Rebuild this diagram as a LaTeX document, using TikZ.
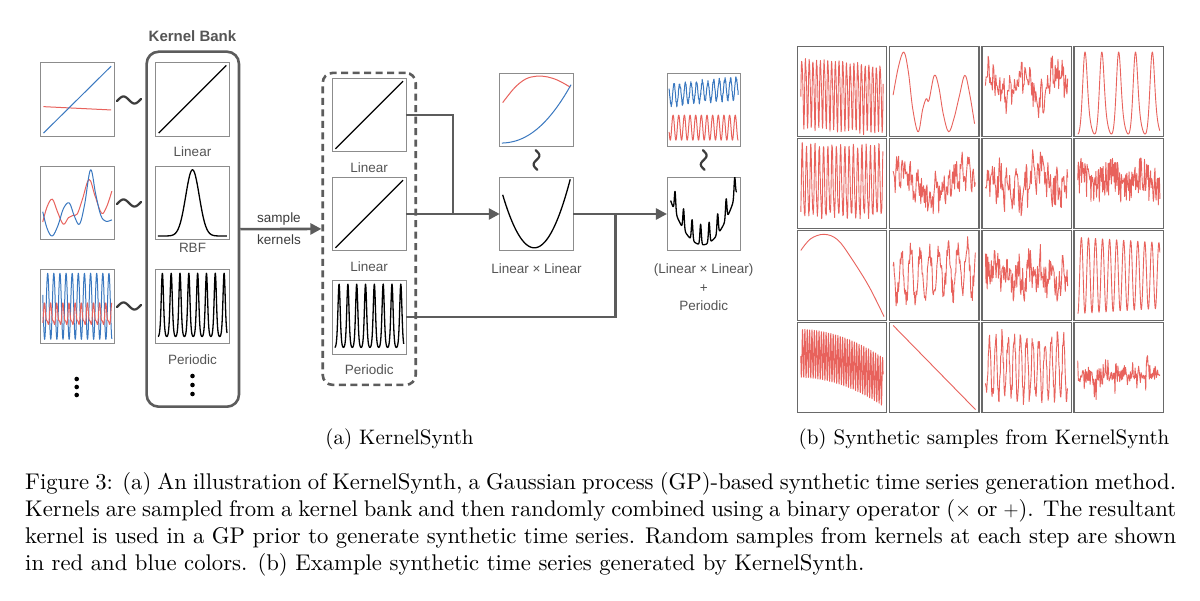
\documentclass[tikz,border=0pt]{standalone}
\usepackage{fontspec}
\setmainfont{lmroman10-regular}[Extension=.otf]
\newfontfamily\hv{Liberation Sans}
\usetikzlibrary{arrows.meta}
\definecolor{pred}{RGB}{232,98,92}
\definecolor{pblue}{RGB}{58,120,192}
\definecolor{fgray}{RGB}{140,140,140}
\definecolor{ggray}{RGB}{105,105,105}
\definecolor{cgray}{RGB}{92,92,92}
\definecolor{tgray}{RGB}{85,85,85}
\definecolor{dgray}{RGB}{60,60,60}
\newcommand\pbox[4]{%
  \node[pframe] (#1) at (#2,#3) {};
  \begin{scope}[shift={(#1.south west)}, x=73.5pt, y=73.5pt]
    \clip (0.005,0.005) rectangle (0.995,0.995);
    #4
  \end{scope}}
\newcommand\gbox[4]{%
  \node[gframe] (#1) at (#2,#3) {};
  \begin{scope}[shift={(#1.south west)}, x=89.5pt, y=89.5pt]
    \clip (0.008,0.008) rectangle (0.992,0.992);
    #4
  \end{scope}}
\newcommand\mytilde[4]{% x y angle halflength
  \draw[tilde, shift={(#1,#2)}, rotate=#3] plot[domain=-1.1:1.1, samples=40, smooth] ({#4*\x}, {0.32*#4*sin(180*\x)});}
\begin{document}
\begin{tikzpicture}[x=1pt,y=-1pt,
  pframe/.style={draw=fgray, line width=0.8pt, minimum width=73.5pt, minimum height=73.5pt, inner sep=0pt, outer sep=0pt},
  gframe/.style={draw=ggray, line width=1.4pt, minimum width=89.5pt, minimum height=89.5pt, inner sep=0pt, outer sep=0pt},
  kl/.style={black, line width=1.3pt, line join=round},
  pr/.style={pred, line width=1pt, line join=round},
  pb/.style={pblue, line width=1pt, line join=round},
  gr/.style={pred, line width=0.9pt, line join=round},
  lab/.style={font=\hv\fontsize{13.5}{18.5}\selectfont, text=tgray, inner sep=0pt, align=center},
  conn/.style={draw=cgray, line width=2.6pt},
  arr/.style={conn, -{Triangle[length=11pt,width=11pt]}},
  tilde/.style={draw=dgray, line width=2.2pt, line cap=round},
  dot/.style={circle, fill=black, inner sep=0pt, minimum size=4.6pt},
  bank/.style={draw=cgray, line width=2.6pt, rounded corners=12pt, minimum width=92.3pt, minimum height=355pt, inner sep=0pt},
  dbox/.style={draw=cgray, line width=2.6pt, rounded corners=10pt, dash pattern=on 7pt off 4.5pt, minimum width=93pt, minimum height=312pt, inner sep=0pt},
  subcap/.style={font=\fontsize{21}{25}\selectfont, inner sep=0pt},
  captext/.style={font=\fontsize{22.7}{27}\selectfont, inner sep=0pt}
]
\fill[white] (0,0) rectangle (1200,601);
\useasboundingbox (0,0) rectangle (1200,601);

% ---------- kernel bank ----------
\node[bank] (kb) at (192.8,229.2) {};
\node[font=\hv\bfseries\fontsize{15}{18}\selectfont, text=tgray, inner sep=0pt] (kbt) at (192.5,36) {Kernel Bank};

\pbox{kbl}{192.5}{99.3}{\draw[kl] (0.04,0.04) -- (0.96,0.96);}
\node[lab] (kbll) at (192.5,151.7) {Linear};
\pbox{kbr}{192.5}{202.9}{\draw[kl] plot[domain=0.03:0.97, samples=150] (\x,{0.05+0.9*exp(-((\x-0.5)/0.13)^2)});}
\node[lab] (kbrl) at (192.5,248) {RBF};
\pbox{kbp}{192.5}{306.3}{\draw[kl] plot[domain=0.03:0.97, samples=400] (\x,{0.05+0.9*exp(-2*(sin(180*(\x-0.09)/0.12))^2/0.64)});}
\node[lab] (kbpl) at (192.5,360) {Periodic};
\node[dot] (kd1) at (192.5,376) {};
\node[dot] (kd2) at (192.5,385) {};
\node[dot] (kd3) at (192.5,394) {};

% ---------- left samples ----------
\pbox{s1}{77.3}{99.3}{%
  \draw[pr] (0.04,0.4) -- (0.96,0.355);
  \draw[pb] (0.04,0.04) -- (0.96,0.95);}
\pbox{s2}{77.3}{202.9}{%
  \draw[pr] plot[smooth, tension=0.6] coordinates {(0.03,0.24)(0.09,0.45)(0.16,0.55)(0.23,0.38)(0.31,0.21)(0.38,0.3)(0.44,0.33)(0.5,0.35)(0.57,0.55)(0.66,0.82)(0.74,0.6)(0.83,0.36)(0.9,0.45)(0.97,0.66)};
  \draw[pb] plot[smooth, tension=0.6] coordinates {(0.03,0.38)(0.09,0.15)(0.16,0.05)(0.24,0.2)(0.31,0.42)(0.39,0.5)(0.46,0.32)(0.53,0.21)(0.6,0.48)(0.68,0.95)(0.75,0.62)(0.82,0.33)(0.89,0.25)(0.97,0.27)};}
\pbox{s3}{77.3}{306.3}{%
  \draw[pb] plot[domain=0.03:0.97, samples=300] (\x,{0.5+0.45*sin(360*12*\x+30)});
  \draw[pr] plot[domain=0.03:0.97, samples=300] (\x,{0.37+0.13*sin(360*12*\x+210)+0.05*sin(360*24*\x)});}
\mytilde{129}{100}{0}{11}
\mytilde{129}{203}{0}{11}
\mytilde{129}{306}{0}{11}
\node[dot] (ld1) at (76.7,379) {};
\node[dot] (ld2) at (76.7,387) {};
\node[dot] (ld3) at (76.7,395) {};

% ---------- sampled kernels ----------
\node[dbox] (db) at (369.2,228.9) {};
\draw[arr] (kb.east) -- (db.west);
\node[lab, font=\hv\fontsize{13.5}{22}\selectfont, text=dgray] (sk) at (279,229) {sample\\kernels};

\pbox{sA}{369.2}{115}{\draw[kl] (0.04,0.04) -- (0.96,0.96);}
\node[lab] (sAl) at (369.2,168) {Linear};
\pbox{sB}{369.2}{214}{\draw[kl] (0.04,0.04) -- (0.96,0.96);}
\node[lab] (sBl) at (369.2,266.7) {Linear};
\pbox{sC}{369.2}{317.2}{\draw[kl] plot[domain=0.03:0.97, samples=400] (\x,{0.05+0.9*exp(-2*(sin(180*(\x-0.09)/0.12))^2/0.64)});}
\node[lab] (sCl) at (369.2,370) {Periodic};

% ---------- combination ----------
\pbox{lxs}{536.5}{110}{%
  \draw[pr] plot[smooth, tension=0.6] coordinates {(0.04,0.6)(0.2,0.8)(0.35,0.92)(0.5,0.96)(0.65,0.95)(0.8,0.9)(0.96,0.81)};
  \draw[pb] plot[domain=0.03:0.97, samples=100] (\x,{0.05+0.85*\x^2.2});}
\pbox{lxl}{536.5}{214}{\draw[kl] plot[domain=0.04:0.96, samples=120] (\x,{0.04+3.9*(\x-0.47)^2});}
\node[lab] (lxll) at (536.5,268.3) {Linear × Linear};
\mytilde{536.5}{160}{90}{9}

\pbox{outs}{703.7}{110}{%
  \pgfmathsetseed{5}
  \draw[pb] plot[domain=0.03:0.97, samples=300] (\x,{0.7+0.1*\x+0.14*sin(360*13*\x)+0.03*rand});
  \draw[pr] plot[domain=0.03:0.97, samples=300] (\x,{0.26+0.17*sin(360*13*\x+60)});}
\pbox{out}{703.7}{214}{\draw[kl] plot[domain=0.05:0.95, samples=400] (\x,{0.08+3.26*(\x-0.48)^2+0.28*exp(-8*(sin(180*(\x-0.11)/0.116))^2)});}
\node[lab, anchor=north] (outl) at (703.7,264) {(Linear × Linear)\\+\\Periodic};
\mytilde{703.7}{160}{90}{9}

% connectors
\coordinate (j1) at (453,214);
\coordinate (j2) at (615.7,214);
\draw[conn] (sA.east) -| (j1);
\draw[arr] (sB.east) -- (lxl.west);
\draw[arr] (lxl.east) -- (out.west);
\draw[conn] (sC.east) -| (j2);

% ---------- grid ----------
\gbox{g11}{842}{91.5}{\pgfmathsetseed{11}\draw[gr] plot[domain=0.04:0.96,samples=320] (\x,{0.52-0.08*\x+0.36*sin(360*24*\x)+0.14*sin(360*24*\x+20)*cos(360*24*\x+20)+0.03*rand});}
\gbox{g12}{934.3}{91.5}{\draw[gr] plot[smooth, tension=0.6] coordinates {(0.04,0.46)(0.1,0.78)(0.16,0.94)(0.21,0.72)(0.26,0.3)(0.32,0.05)(0.37,0.3)(0.41,0.42)(0.44,0.4)(0.5,0.68)(0.55,0.55)(0.6,0.25)(0.66,0.05)(0.72,0.2)(0.78,0.45)(0.84,0.68)(0.89,0.5)(0.95,0.14)};}
\gbox{g13}{1026.6}{91.5}{\pgfmathsetseed{13}\draw[gr] plot[domain=0.04:0.96,samples=120] (\x,{0.58+0.15*sin(360*2.6*\x+30)+0.09*sin(360*17*\x)+0.17*rand});}
\gbox{g14}{1118.9}{91.5}{\draw[gr] plot[domain=0.04:0.96,samples=300] (\x,{0.04+0.9*(exp(-2.5*(sin(180*(\x-0.12)/0.188))^2)-0.082)/0.918+0.06*sin(360*(\x-0.12)/0.188)});}

\gbox{g21}{842}{183.5}{\pgfmathsetseed{21}\draw[gr] plot[domain=0.04:0.96,samples=300] (\x,{0.5+0.38*sin(360*21*\x+20)+0.06*sin(360*42*\x)+0.04*rand});}
\gbox{g22}{934.3}{183.5}{\pgfmathsetseed{22}\draw[gr] plot[domain=0.04:0.96,samples=120] (\x,{0.5+0.1*sin(360*1.3*\x+60)+0.08*sin(360*14*\x)+0.2*rand});}
\gbox{g23}{1026.6}{183.5}{\pgfmathsetseed{23}\draw[gr] plot[domain=0.04:0.96,samples=130] (\x,{0.5+0.08*sin(360*2*\x)+0.1*sin(360*11*\x)+0.22*rand});}
\gbox{g24}{1118.9}{183.5}{\pgfmathsetseed{24}\draw[gr] plot[domain=0.04:0.96,samples=150] (\x,{0.52+0.06*sin(360*3*\x)+0.21*rand});}

\gbox{g31}{842}{275.5}{\draw[gr] plot[smooth, tension=0.6] coordinates {(0.04,0.78)(0.15,0.91)(0.3,0.96)(0.45,0.9)(0.6,0.7)(0.8,0.38)(0.97,0.04)};}
\gbox{g32}{934.3}{275.5}{\pgfmathsetseed{32}\draw[gr] plot[domain=0.04:0.96,samples=140] (\x,{0.48+0.12*\x+0.26*sin(360*9.5*\x)+0.12*rand});}
\gbox{g33}{1026.6}{275.5}{\pgfmathsetseed{33}\draw[gr] plot[domain=0.04:0.96,samples=140] (\x,{0.5+0.05*sin(360*2*\x)+0.1*sin(360*8*\x)+0.2*rand});}
\gbox{g34}{1118.9}{275.5}{\draw[gr] plot[domain=0.04:0.96,samples=300] (\x,{0.5+0.43*sin(360*12.7*\x+80)*(1-0.15*\x)});}

\gbox{g41}{842}{367.5}{\draw[gr] plot[domain=0.04:0.96,samples=500] (\x,{0.66-0.35*\x*\x+0.27*sin(360*38*\x)});}
\gbox{g42}{934.3}{367.5}{\draw[gr] (0.04,0.97) -- (0.96,0.03);}
\gbox{g43}{1026.6}{367.5}{\pgfmathsetseed{43}\draw[gr] plot[domain=0.04:0.96,samples=200] (\x,{0.5+0.33*sin(360*14.5*\x)+0.1*rand});}
\gbox{g44}{1118.9}{367.5}{\pgfmathsetseed{44}\draw[gr] plot[domain=0.04:0.96,samples=140] (\x,{0.42+0.08*rand+0.3*rand*rand*rand});}

% ---------- captions ----------
\node[subcap] (capa) at (399.5,439) {(a) KernelSynth};
\node[subcap] (capb) at (984,439) {(b) Synthetic samples from KernelSynth};
\node[captext, anchor=north west, text width=1151pt, align=justify] (capmain) at (25,472) {Figure 3: (a) An illustration of KernelSynth, a Gaussian process (GP)-based synthetic time series generation method.\linebreak
Kernels are sampled from a kernel bank and then randomly combined using a binary operator ($\times$ or $+$). The resultant\linebreak
kernel is used in a GP prior to generate synthetic time series. Random samples from kernels at each step are shown\linebreak
in red and blue colors. (b) Example synthetic time series generated by KernelSynth.};
\end{tikzpicture}
\end{document}
